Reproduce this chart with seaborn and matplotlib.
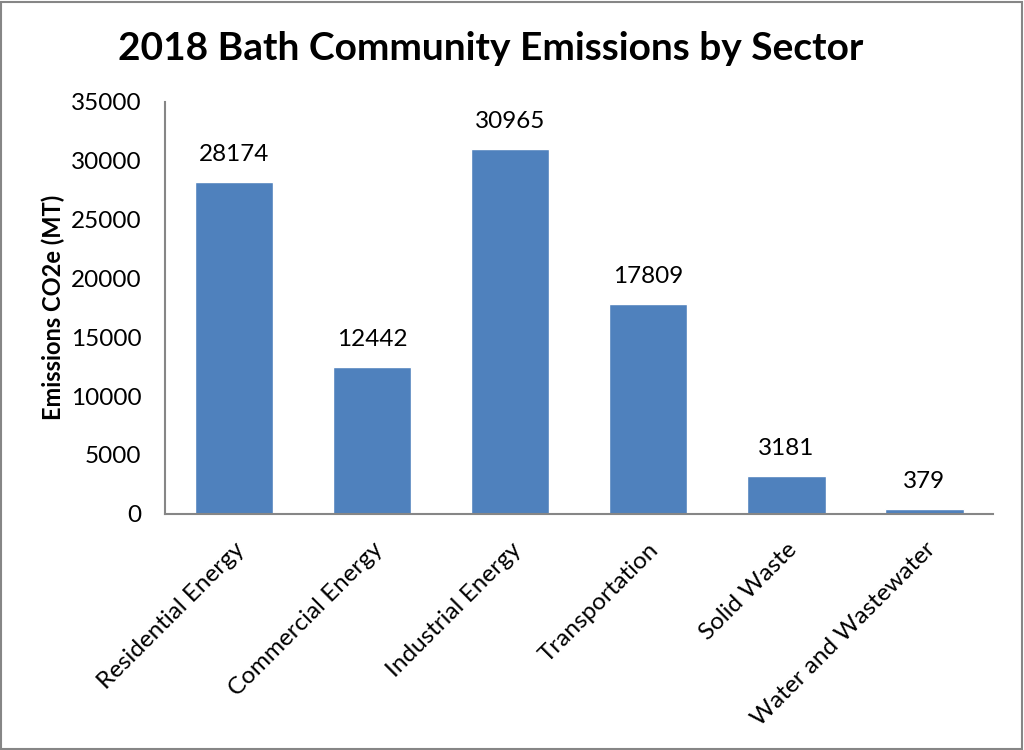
import matplotlib
matplotlib.use('Agg')
import matplotlib.pyplot as plt
import seaborn as sns
import pandas as pd

sectors = ['Residential Energy', 'Commercial Energy', 'Industrial Energy',
           'Transportation', 'Solid Waste', 'Water and Wastewater']
emissions = [28174, 12442, 30965, 17809, 3181, 379]
y_ticks = [0, 5000, 10000, 15000, 20000, 25000, 30000, 35000]

df = pd.DataFrame({'Sector': sectors, 'Emissions': emissions})

sns.set_style('white')
plt.rcParams['font.family'] = ['Lato', 'DejaVu Sans']
plt.rcParams['text.color'] = 'black'
plt.rcParams['axes.labelcolor'] = 'black'
plt.rcParams['xtick.color'] = 'black'
plt.rcParams['ytick.color'] = 'black'

fig = plt.figure(figsize=(10.24, 7.5), dpi=100)
ax = fig.add_axes([0.161, 0.315, 0.809, 0.549])

sns.barplot(data=df, x='Sector', y='Emissions', color='#4F81BD',
            saturation=1, width=0.57, ax=ax)

for i, v in enumerate(emissions):
    ax.text(i, v + 1450, str(v), ha='center', va='bottom', fontsize=17.5)

ax.set_ylim(0, 35000)
ax.set_yticks(y_ticks)
ax.set_yticklabels([str(t) for t in y_ticks], fontsize=17.5)
ax.set_xlim(-0.5, 5.5)
ax.set_xticks(range(len(sectors)))
ax.set_xticklabels(sectors, rotation=45, ha='right', rotation_mode='anchor', fontsize=17.5)
ax.tick_params(axis='y', length=0, pad=17)
ax.tick_params(axis='x', length=0, pad=18)
ax.set_xlabel('')
ax.set_ylabel('Emissions CO2e (MT)', fontsize=17, fontweight='bold', labelpad=4)

for side in ['top', 'right']:
    ax.spines[side].set_visible(False)
for side in ['left', 'bottom']:
    ax.spines[side].set_color('#868686')
    ax.spines[side].set_linewidth(1.5)

fig.suptitle('2018 Bath Community Emissions by Sector', fontsize=28,
             fontweight='bold', x=0.479, y=0.958)

fig.patches.append(plt.Rectangle((0.001, 0.001), 0.997, 0.997, transform=fig.transFigure,
                                 fill=False, edgecolor='#868686', linewidth=1.5))

fig.savefig('out.png', dpi=100)
